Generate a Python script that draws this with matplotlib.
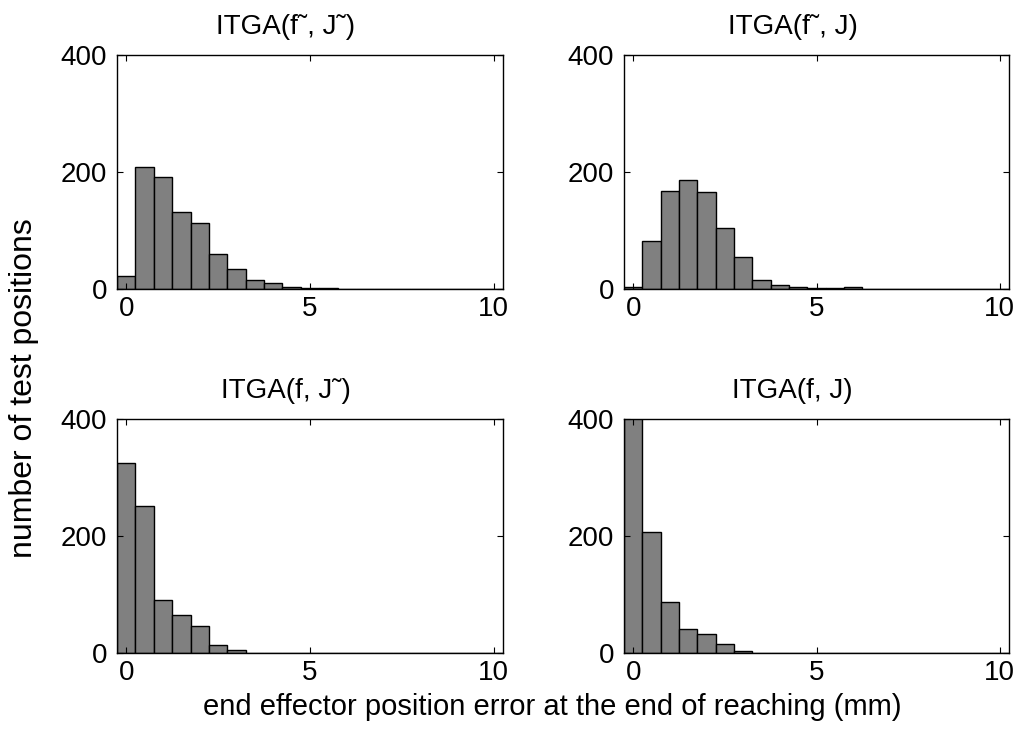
import numpy as np
import matplotlib
matplotlib.use("Agg")
import matplotlib.pyplot as plt

plt.rcParams['font.family'] = ['Liberation Sans', 'DejaVu Sans']

# bin centres of the error histogram (mm)
bin_centers = np.arange(0, 10.5, 0.5)

titles = ["ITGA(f\u02dc, J\u02dc)", "ITGA(f\u02dc, J)", "ITGA(f, J\u02dc)", "ITGA(f, J)"]

counts_ft_jt = [23, 208, 192, 132, 113, 60, 35, 16, 10, 4, 2, 1] + [0] * 9
counts_ft_j = [3, 82, 167, 186, 166, 104, 55, 15, 6, 3, 2, 1, 3] + [0] * 8
counts_f_jt = [324, 252, 90, 65, 47, 14, 5] + [0] * 14
counts_f_j = [414, 206, 87, 41, 33, 16, 3] + [0] * 14

all_counts = [counts_ft_jt, counts_ft_j, counts_f_jt, counts_f_j]

xticks = [0, 5, 10]
yticks = [0, 200, 400]

W, H = 1021, 736
fig = plt.figure(figsize=(W / 100, H / 100), dpi=100)

# axes boxes in pixels: left, top, right, bottom
boxes = [(117, 55, 503, 289), (624, 55, 1009, 289),
         (117, 419, 503, 653), (624, 419, 1009, 653)]

for box, counts, title in zip(boxes, all_counts, titles):
    l, t, r, b = box
    ax = fig.add_axes([l / W, (H - b) / H, (r - l) / W, (b - t) / H])
    ax.bar(bin_centers, counts, width=0.5, color='#808080',
           edgecolor='black', linewidth=1.0)
    ax.set_xlim(-0.25, 10.25)
    ax.set_ylim(0, 400)
    ax.set_xticks(xticks)
    ax.set_yticks(yticks)
    ax.tick_params(direction='in', top=True, right=True, length=4,
                   width=0.8, labelsize=20)
    ax.tick_params(axis='x', pad=5)
    ax.tick_params(axis='y', pad=7)
    for s in ax.spines.values():
        s.set_linewidth(1.0)
    ax.set_title(title, fontsize=20, pad=15, x=0.5 - 24 / (r - l))

fig.text(24 / W, 1 - 388 / H, "number of test positions", rotation=90,
         ha='center', va='center', fontsize=23)
fig.text(552 / W, 1 - 707 / H,
         "end effector position error at the end of reaching (mm)",
         ha='center', va='center', fontsize=21)

fig.savefig("out.png", dpi=100)
